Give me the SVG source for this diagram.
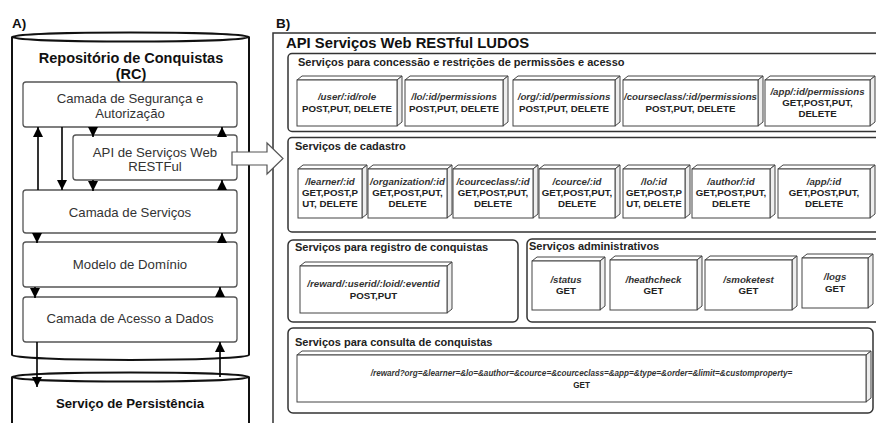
<svg xmlns="http://www.w3.org/2000/svg" width="876" height="423" viewBox="0 0 876 423">
<defs>
<style>
text{font-family:"Liberation Sans",Arial,sans-serif}
.cyl{fill:none;stroke:#111;stroke-width:2}
.layer{fill:#fff;stroke:#555;stroke-width:1.3}
.lt{font-size:13.2px;fill:#333;text-anchor:middle}
.bt{font-weight:bold;fill:#111;text-anchor:middle}
.lbl{font-weight:bold;font-size:13.5px;fill:#111}
.frame{fill:#fff;stroke:#333;stroke-width:1.5}
.sec{fill:#fff;stroke:#333;stroke-width:1.5}
.st{font-weight:bold;font-size:11px;fill:#222}
.cf{fill:#fff;stroke:#444;stroke-width:1}
.cs{fill:#eee;stroke:#444;stroke-width:1}
.cp{font-weight:bold;font-style:italic;font-size:9.7px;fill:#333;text-anchor:middle}
.cm{font-weight:bold;font-size:9.7px;fill:#222;text-anchor:middle}
.conn{stroke:#000;stroke-width:1.6;fill:none}
</style>
<marker id="ah" markerWidth="10" markerHeight="10" refX="10" refY="5" orient="auto" markerUnits="userSpaceOnUse"><path d="M0,0 L10,5 L0,10 z" fill="#000"/></marker>
</defs>
<rect width="876" height="423" fill="#fff"/>

<!-- Panel A -->
<text class="lbl" x="12" y="28">A)</text>
<g id="rc">
<path class="cyl" d="M12,37 V355 A118.5,5 0 0 0 249,355 V37"/>
<ellipse class="cyl" cx="130.5" cy="37" rx="118.5" ry="4.5"/>
<text class="bt" x="131" y="63" font-size="14.5">Repositório de Conquistas</text>
<text class="bt" x="131" y="79" font-size="14.5">(RC)</text>
</g>
<g id="seguranca"><rect class="layer" x="23" y="82" width="214" height="45" rx="3"/>
<text class="lt" x="130" y="103">Camada de Segurança e</text><text class="lt" x="130" y="118">Autorização</text></g>
<g id="api"><rect class="layer" x="73" y="135" width="164" height="45" rx="3"/>
<text class="lt" x="155" y="157">API de Serviços Web</text><text class="lt" x="155" y="171">RESTFul</text></g>
<g id="servicos"><rect class="layer" x="23" y="190" width="214" height="43" rx="3"/>
<text class="lt" x="130" y="217">Camada de Serviços</text></g>
<g id="dominio"><rect class="layer" x="23" y="242" width="214" height="45" rx="3"/>
<text class="lt" x="130" y="269">Modelo de Domínio</text></g>
<g id="acesso"><rect class="layer" x="23" y="297" width="214" height="45" rx="3"/>
<text class="lt" x="130" y="323">Camada de Acesso a Dados</text></g>
<g id="persistencia">
<path class="cyl" d="M12,377 V430 M249,377 V430"/>
<ellipse class="cyl" cx="130.5" cy="377" rx="118.5" ry="4.5"/>
<text class="bt" x="130" y="408" font-size="13.2">Serviço de Persistência</text>
</g>

<!-- Panel B frame -->
<text class="lbl" x="276" y="28">B)</text>
<g id="ludos">
<rect class="frame" x="273" y="33" width="700" height="500"/>
<text x="286" y="48" font-weight="bold" font-size="14.8" fill="#111">API Serviços Web RESTful LUDOS</text>
</g>

<g id="connectors">
<line class="conn" x1="38" y1="190" x2="38" y2="127" marker-end="url(#ah)"/>
<line class="conn" x1="62" y1="127" x2="62" y2="190" marker-end="url(#ah)"/>
<line class="conn" x1="93" y1="127" x2="93" y2="137" marker-end="url(#ah)"/>
<line class="conn" x1="222" y1="135" x2="222" y2="127" marker-end="url(#ah)"/>
<line class="conn" x1="93" y1="180" x2="93" y2="191" marker-end="url(#ah)"/>
<line class="conn" x1="222" y1="190" x2="222" y2="180" marker-end="url(#ah)"/>
<line class="conn" x1="37" y1="233" x2="37" y2="243" marker-end="url(#ah)"/>
<line class="conn" x1="222" y1="242" x2="222" y2="233" marker-end="url(#ah)"/>
<line class="conn" x1="35" y1="287" x2="35" y2="298" marker-end="url(#ah)"/>
<line class="conn" x1="220" y1="297" x2="220" y2="287" marker-end="url(#ah)"/>
<line class="conn" x1="37" y1="342" x2="37" y2="387" marker-end="url(#ah)"/>
<line class="conn" x1="220" y1="377" x2="220" y2="342" marker-end="url(#ah)"/>
<polygon points="232,152 267,152 267,143 283,158.5 267,174 267,165 232,165" fill="#fff" stroke="#555" stroke-width="1.2"/>
</g>

<!-- Section 1 -->
<g id="sec-permissoes">
<rect class="sec" x="288" y="53.5" width="600" height="78" rx="4"/>
<text class="st" x="298" y="66">Serviços para concessão e restrições de permissões e acesso</text>
</g>
<g id="p-user"><polygon class="cf" points="297,80 302,76 402,76 397,80"/><polygon class="cs" points="397,80 402,76 402,122 397,126"/><rect class="cf" x="297" y="80" width="100" height="46"/>
<text class="cp" x="347" y="100">/user/:id/role</text><text class="cm" x="347" y="112">POST,PUT, DELETE</text></g>
<g id="p-lo"><polygon class="cf" points="405,80 410,76 508,76 503,80"/><polygon class="cs" points="503,80 508,76 508,122 503,126"/><rect class="cf" x="405" y="80" width="98" height="46"/>
<text class="cp" x="454" y="100">/lo/:id/permissions</text><text class="cm" x="454" y="112">POST,PUT, DELETE</text></g>
<g id="p-org"><polygon class="cf" points="513,80 518,76 620,76 615,80"/><polygon class="cs" points="615,80 620,76 620,122 615,126"/><rect class="cf" x="513" y="80" width="102" height="46"/>
<text class="cp" x="564" y="100">/org/:id/permissions</text><text class="cm" x="564" y="112">POST,PUT, DELETE</text></g>
<g id="p-courseclass"><polygon class="cf" points="623,80 628,76 763,76 758,80"/><polygon class="cs" points="758,80 763,76 763,122 758,126"/><rect class="cf" x="623" y="80" width="135" height="46"/>
<text class="cp" x="690.5" y="100">/courseclass/:id/permissions</text><text class="cm" x="690.5" y="112">POST,PUT, DELETE</text></g>
<g id="p-app"><polygon class="cf" points="765,80 770,76 875,76 870,80"/><polygon class="cs" points="870,80 875,76 875,122 870,126"/><rect class="cf" x="765" y="80" width="105" height="46"/>
<text class="cp" x="817.5" y="95">/app/:id/permissions</text><text class="cm" x="817.5" y="106">GET,POST,PUT,</text><text class="cm" x="817.5" y="117">DELETE</text></g>

<!-- Section 2 -->
<g id="sec-cadastro">
<rect class="sec" x="288" y="137.5" width="600" height="94.5" rx="4"/>
<text class="st" x="295" y="150">Serviços de cadastro</text>
</g>
<g id="c-learner"><polygon class="cf" points="298,169 303,165 367,165 362,169"/><polygon class="cs" points="362,169 367,165 367,214 362,218"/><rect class="cf" x="298" y="169" width="64" height="49"/>
<text class="cp" x="330" y="185">/learner/:id</text><text class="cm" x="330" y="196">GET,POST,P</text><text class="cm" x="330" y="207">UT, DELETE</text></g>
<g id="c-organization"><polygon class="cf" points="368,169 373,165 452,165 447,169"/><polygon class="cs" points="447,169 452,165 452,214 447,218"/><rect class="cf" x="368" y="169" width="79" height="49"/>
<text class="cp" x="407.5" y="185">/organization/:id</text><text class="cm" x="407.5" y="196">GET,POST,PUT,</text><text class="cm" x="407.5" y="207">DELETE</text></g>
<g id="c-courceclass"><polygon class="cf" points="453,169 458,165 538,165 533,169"/><polygon class="cs" points="533,169 538,165 538,214 533,218"/><rect class="cf" x="453" y="169" width="80" height="49"/>
<text class="cp" x="493" y="185">/courceclass/:id</text><text class="cm" x="493" y="196">GET,POST,PUT,</text><text class="cm" x="493" y="207">DELETE</text></g>
<g id="c-cource"><polygon class="cf" points="539,169 544,165 620,165 615,169"/><polygon class="cs" points="615,169 620,165 620,214 615,218"/><rect class="cf" x="539" y="169" width="76" height="49"/>
<text class="cp" x="577" y="185">/cource/:id</text><text class="cm" x="577" y="196">GET,POST,PUT,</text><text class="cm" x="577" y="207">DELETE</text></g>
<g id="c-lo"><polygon class="cf" points="623,169 628,165 690,165 685,169"/><polygon class="cs" points="685,169 690,165 690,214 685,218"/><rect class="cf" x="623" y="169" width="62" height="49"/>
<text class="cp" x="654" y="185">/lo/:id</text><text class="cm" x="654" y="196">GET,POST,P</text><text class="cm" x="654" y="207">UT, DELETE</text></g>
<g id="c-author"><polygon class="cf" points="692,169 697,165 775,165 770,169"/><polygon class="cs" points="770,169 775,165 775,214 770,218"/><rect class="cf" x="692" y="169" width="78" height="49"/>
<text class="cp" x="731" y="185">/author/:id</text><text class="cm" x="731" y="196">GET,POST,PUT,</text><text class="cm" x="731" y="207">DELETE</text></g>
<g id="c-app"><polygon class="cf" points="778,169 783,165 875,165 870,169"/><polygon class="cs" points="870,169 875,165 875,214 870,218"/><rect class="cf" x="778" y="169" width="92" height="49"/>
<text class="cp" x="824" y="185">/app/:id</text><text class="cm" x="824" y="196">GET,POST,PUT,</text><text class="cm" x="824" y="207">DELETE</text></g>

<!-- Section 3 -->
<g id="sec-registro">
<rect class="sec" x="288" y="240" width="230" height="82" rx="5"/>
<text class="st" x="295" y="251">Serviços para registro de conquistas</text>
</g>
<g id="r-reward"><polygon class="cf" points="300,266 305,262 452,262 447,266"/><polygon class="cs" points="447,266 452,262 452,309 447,313"/><rect class="cf" x="300" y="266" width="147" height="47"/>
<text class="cp" x="373.5" y="287">/reward/:userid/:loid/:eventid</text><text class="cm" x="373.5" y="299">POST,PUT</text></g>

<!-- Section 4 -->
<g id="sec-admin">
<rect class="sec" x="527" y="239" width="360" height="83" rx="5"/>
<text class="st" x="529" y="250">Serviços administrativos</text>
</g>
<g id="a-status"><polygon class="cf" points="532,261 537,257 605,257 600,261"/><polygon class="cs" points="600,261 605,257 605,306 600,310"/><rect class="cf" x="532" y="261" width="68" height="49"/>
<text class="cp" x="566" y="283">/status</text><text class="cm" x="566" y="294">GET</text></g>
<g id="a-heathcheck"><polygon class="cf" points="610,260 615,256 702,256 697,260"/><polygon class="cs" points="697,260 702,256 702,306 697,310"/><rect class="cf" x="610" y="260" width="87" height="50"/>
<text class="cp" x="653.5" y="283">/heathcheck</text><text class="cm" x="653.5" y="294">GET</text></g>
<g id="a-smoketest"><polygon class="cf" points="705,260 710,256 797,256 792,260"/><polygon class="cs" points="792,260 797,256 797,306 792,310"/><rect class="cf" x="705" y="260" width="87" height="50"/>
<text class="cp" x="748.5" y="283">/smoketest</text><text class="cm" x="748.5" y="294">GET</text></g>
<g id="a-logs"><polygon class="cf" points="802,258 807,254 873,254 868,258"/><polygon class="cs" points="868,258 873,254 873,304 868,308"/><rect class="cf" x="802" y="258" width="66" height="50"/>
<text class="cp" x="835" y="280">/logs</text><text class="cm" x="835" y="292">GET</text></g>

<!-- Section 5 -->
<g id="sec-consulta">
<rect class="sec" x="288" y="328" width="585" height="85" rx="5"/>
<text class="st" x="295" y="346">Serviços para consulta de conquistas</text>
</g>
<g id="q-reward"><polygon class="cf" points="297,355 302,351 871,351 866,355"/><polygon class="cs" points="866,355 871,351 871,398 866,402"/><rect class="cf" x="297" y="355" width="569" height="47"/>
<g transform="translate(581.5,376) scale(0.84)"><text class="cp" x="0" y="0">/reward?org=&amp;learner=&amp;lo=&amp;author=&amp;cource=&amp;courceclass=&amp;app=&amp;type=&amp;order=&amp;limit=&amp;customproperty=</text><text class="cm" x="0" y="14.5">GET</text></g></g>
</svg>
